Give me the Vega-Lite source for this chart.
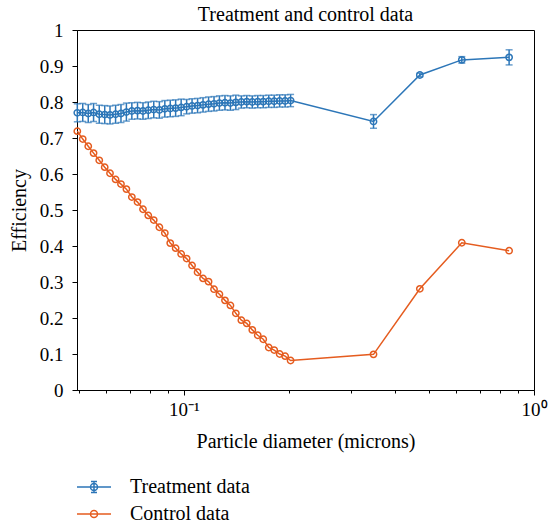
{
  "$schema": "https://vega.github.io/schema/vega-lite/v6.json",
  "width": 457,
  "height": 360,
  "autosize": {"type": "none"},
  "padding": {"left": 77, "top": 30, "right": 15, "bottom": 135},
  "background": "white",
  "title": {"text": "Treatment and control data", "font": "Liberation Serif", "fontSize": 20, "fontWeight": "normal", "color": "black", "offset": 7, "dy": 11},
  "config": {
    "view": {"stroke": "black", "strokeWidth": 1},
    "axis": {"domainColor": "black", "tickColor": "black", "labelColor": "black", "titleColor": "black", "labelFont": "Liberation Serif", "titleFont": "Liberation Serif", "labelFontSize": 19, "titleFontSize": 20, "titleFontWeight": "normal", "grid": false, "domainWidth": 1, "tickWidth": 1}
  },
  "data": {"values": [
    {"s": "Treatment data", "d": 0.0496, "e": 0.770, "lo": 0.745, "hi": 0.795},
    {"s": "Treatment data", "d": 0.0514, "e": 0.771, "lo": 0.746, "hi": 0.796},
    {"s": "Treatment data", "d": 0.0533, "e": 0.768, "lo": 0.743, "hi": 0.793},
    {"s": "Treatment data", "d": 0.0552, "e": 0.771, "lo": 0.746, "hi": 0.796},
    {"s": "Treatment data", "d": 0.0573, "e": 0.766, "lo": 0.741, "hi": 0.791},
    {"s": "Treatment data", "d": 0.0594, "e": 0.765, "lo": 0.740, "hi": 0.790},
    {"s": "Treatment data", "d": 0.0615, "e": 0.764, "lo": 0.739, "hi": 0.789},
    {"s": "Treatment data", "d": 0.0638, "e": 0.766, "lo": 0.741, "hi": 0.791},
    {"s": "Treatment data", "d": 0.0661, "e": 0.768, "lo": 0.743, "hi": 0.793},
    {"s": "Treatment data", "d": 0.0685, "e": 0.772, "lo": 0.747, "hi": 0.797},
    {"s": "Treatment data", "d": 0.0710, "e": 0.775, "lo": 0.752, "hi": 0.798},
    {"s": "Treatment data", "d": 0.0737, "e": 0.776, "lo": 0.753, "hi": 0.799},
    {"s": "Treatment data", "d": 0.0764, "e": 0.775, "lo": 0.752, "hi": 0.798},
    {"s": "Treatment data", "d": 0.0791, "e": 0.777, "lo": 0.754, "hi": 0.800},
    {"s": "Treatment data", "d": 0.0820, "e": 0.779, "lo": 0.756, "hi": 0.802},
    {"s": "Treatment data", "d": 0.0851, "e": 0.778, "lo": 0.755, "hi": 0.801},
    {"s": "Treatment data", "d": 0.0882, "e": 0.781, "lo": 0.758, "hi": 0.804},
    {"s": "Treatment data", "d": 0.0914, "e": 0.782, "lo": 0.759, "hi": 0.805},
    {"s": "Treatment data", "d": 0.0947, "e": 0.783, "lo": 0.760, "hi": 0.806},
    {"s": "Treatment data", "d": 0.0982, "e": 0.785, "lo": 0.762, "hi": 0.808},
    {"s": "Treatment data", "d": 0.1018, "e": 0.787, "lo": 0.767, "hi": 0.807},
    {"s": "Treatment data", "d": 0.1055, "e": 0.789, "lo": 0.769, "hi": 0.809},
    {"s": "Treatment data", "d": 0.1094, "e": 0.790, "lo": 0.770, "hi": 0.810},
    {"s": "Treatment data", "d": 0.1134, "e": 0.792, "lo": 0.772, "hi": 0.812},
    {"s": "Treatment data", "d": 0.1176, "e": 0.794, "lo": 0.774, "hi": 0.814},
    {"s": "Treatment data", "d": 0.1219, "e": 0.795, "lo": 0.775, "hi": 0.815},
    {"s": "Treatment data", "d": 0.1263, "e": 0.797, "lo": 0.777, "hi": 0.817},
    {"s": "Treatment data", "d": 0.1310, "e": 0.798, "lo": 0.778, "hi": 0.818},
    {"s": "Treatment data", "d": 0.1358, "e": 0.797, "lo": 0.777, "hi": 0.817},
    {"s": "Treatment data", "d": 0.1407, "e": 0.799, "lo": 0.779, "hi": 0.819},
    {"s": "Treatment data", "d": 0.1459, "e": 0.800, "lo": 0.783, "hi": 0.817},
    {"s": "Treatment data", "d": 0.1512, "e": 0.801, "lo": 0.784, "hi": 0.818},
    {"s": "Treatment data", "d": 0.1568, "e": 0.800, "lo": 0.783, "hi": 0.817},
    {"s": "Treatment data", "d": 0.1625, "e": 0.801, "lo": 0.784, "hi": 0.818},
    {"s": "Treatment data", "d": 0.1685, "e": 0.801, "lo": 0.784, "hi": 0.818},
    {"s": "Treatment data", "d": 0.1747, "e": 0.802, "lo": 0.785, "hi": 0.819},
    {"s": "Treatment data", "d": 0.1811, "e": 0.802, "lo": 0.785, "hi": 0.819},
    {"s": "Treatment data", "d": 0.1877, "e": 0.803, "lo": 0.786, "hi": 0.820},
    {"s": "Treatment data", "d": 0.1946, "e": 0.803, "lo": 0.786, "hi": 0.820},
    {"s": "Treatment data", "d": 0.2017, "e": 0.804, "lo": 0.787, "hi": 0.821},
    {"s": "Treatment data", "d": 0.348, "e": 0.746, "lo": 0.727, "hi": 0.765},
    {"s": "Treatment data", "d": 0.472, "e": 0.875, "lo": 0.870, "hi": 0.880},
    {"s": "Treatment data", "d": 0.622, "e": 0.917, "lo": 0.908, "hi": 0.926},
    {"s": "Treatment data", "d": 0.849, "e": 0.924, "lo": 0.903, "hi": 0.945},
    {"s": "Control data", "d": 0.0496, "e": 0.719},
    {"s": "Control data", "d": 0.0514, "e": 0.697},
    {"s": "Control data", "d": 0.0533, "e": 0.677},
    {"s": "Control data", "d": 0.0552, "e": 0.658},
    {"s": "Control data", "d": 0.0573, "e": 0.638},
    {"s": "Control data", "d": 0.0594, "e": 0.619},
    {"s": "Control data", "d": 0.0615, "e": 0.602},
    {"s": "Control data", "d": 0.0638, "e": 0.585},
    {"s": "Control data", "d": 0.0661, "e": 0.572},
    {"s": "Control data", "d": 0.0685, "e": 0.558},
    {"s": "Control data", "d": 0.0710, "e": 0.536},
    {"s": "Control data", "d": 0.0737, "e": 0.522},
    {"s": "Control data", "d": 0.0764, "e": 0.502},
    {"s": "Control data", "d": 0.0791, "e": 0.485},
    {"s": "Control data", "d": 0.0820, "e": 0.472},
    {"s": "Control data", "d": 0.0851, "e": 0.452},
    {"s": "Control data", "d": 0.0882, "e": 0.436},
    {"s": "Control data", "d": 0.0914, "e": 0.408},
    {"s": "Control data", "d": 0.0947, "e": 0.394},
    {"s": "Control data", "d": 0.0982, "e": 0.378},
    {"s": "Control data", "d": 0.1018, "e": 0.365},
    {"s": "Control data", "d": 0.1055, "e": 0.346},
    {"s": "Control data", "d": 0.1094, "e": 0.327},
    {"s": "Control data", "d": 0.1134, "e": 0.310},
    {"s": "Control data", "d": 0.1176, "e": 0.301},
    {"s": "Control data", "d": 0.1219, "e": 0.280},
    {"s": "Control data", "d": 0.1263, "e": 0.266},
    {"s": "Control data", "d": 0.1310, "e": 0.249},
    {"s": "Control data", "d": 0.1358, "e": 0.235},
    {"s": "Control data", "d": 0.1407, "e": 0.213},
    {"s": "Control data", "d": 0.1459, "e": 0.194},
    {"s": "Control data", "d": 0.1512, "e": 0.185},
    {"s": "Control data", "d": 0.1568, "e": 0.167},
    {"s": "Control data", "d": 0.1625, "e": 0.152},
    {"s": "Control data", "d": 0.1685, "e": 0.141},
    {"s": "Control data", "d": 0.1747, "e": 0.118},
    {"s": "Control data", "d": 0.1811, "e": 0.111},
    {"s": "Control data", "d": 0.1877, "e": 0.100},
    {"s": "Control data", "d": 0.1946, "e": 0.094},
    {"s": "Control data", "d": 0.2017, "e": 0.082},
    {"s": "Control data", "d": 0.348, "e": 0.099},
    {"s": "Control data", "d": 0.472, "e": 0.281},
    {"s": "Control data", "d": 0.622, "e": 0.409},
    {"s": "Control data", "d": 0.849, "e": 0.387}
  ]},
  "encoding": {
    "x": {"field": "d", "type": "quantitative",
      "scale": {"type": "log", "domain": [0.0495, 1], "nice": false},
      "axis": {"title": "Particle diameter (microns)", "titlePadding": 12,
        "values": [0.05, 0.06, 0.07, 0.08, 0.09, 0.1, 0.2, 0.3, 0.4, 0.5, 0.6, 0.7, 0.8, 0.9, 1],
        "labelExpr": "datum.value == 0.1 ? '10⁻¹' : (datum.value == 1 ? '10⁰' : '')",
        "tickSize": {"condition": {"test": "datum.value == 0.1 || datum.value == 1", "value": 5}, "value": 3},
        "labelPadding": 5, "labelFlush": false, "labelOverlap": false}},
    "y": {"field": "e", "type": "quantitative",
      "scale": {"domain": [0, 1], "nice": false},
      "axis": {"title": "Efficiency", "values": [0, 0.1, 0.2, 0.3, 0.4, 0.5, 0.6, 0.7, 0.8, 0.9, 1], "format": "~g", "tickSize": 5, "labelPadding": 9, "titlePadding": 10, "labelFlush": false}},
    "color": {"field": "s", "type": "nominal",
      "scale": {"domain": ["Treatment data", "Control data"], "range": ["#2c76b8", "#e55c1f"]},
      "legend": {"title": null, "orient": "none", "legendX": 6, "legendY": 446, "direction": "vertical",
        "symbolSize": 400, "labelOffset": 25, "rowPadding": 6, "padding": 0,
        "labelFont": "Liberation Serif", "labelFontSize": 20, "labelColor": "black", "labelLimit": 300,
        "symbolStrokeWidth": 1.5, "symbolFillColor": "transparent", "symbolType": "circle",
        "encode": {"symbols": {"update": {
          "shape": {"signal": "datum.value == 'Treatment data' ? 'M-1.7,0H1.7M0.35,0A0.35,0.35,0,1,1,-0.35,0A0.35,0.35,0,1,1,0.35,0M0,-0.55V0.55M-0.3,-0.55H0.3M-0.3,0.55H0.3' : 'M-1.7,0H1.7M0.35,0A0.35,0.35,0,1,1,-0.35,0A0.35,0.35,0,1,1,0.35,0'"},
          "fill": {"value": "transparent"},
          "fillOpacity": {"value": 0},
          "strokeWidth": {"value": 1.5}
        }}}
      }}
  },
  "layer": [
    {
      "transform": [{"filter": "datum.s == 'Treatment data'"}],
      "mark": {"type": "rule", "strokeWidth": 1.5},
      "encoding": {
        "y": {"field": "lo", "type": "quantitative"},
        "y2": {"field": "hi"}
      }
    },
    {
      "transform": [{"filter": "datum.s == 'Treatment data'"}],
      "mark": {"type": "tick", "orient": "horizontal", "size": 7, "thickness": 1.5},
      "encoding": {
        "y": {"field": "lo", "type": "quantitative"}
      }
    },
    {
      "transform": [{"filter": "datum.s == 'Treatment data'"}],
      "mark": {"type": "tick", "orient": "horizontal", "size": 7, "thickness": 1.5},
      "encoding": {
        "y": {"field": "hi", "type": "quantitative"}
      }
    },
    {
      "mark": {"type": "line", "strokeWidth": 1.5},
      "encoding": {
        "order": {"field": "d", "type": "quantitative"}
      }
    },
    {
      "mark": {"type": "point", "shape": "circle", "filled": false, "size": 40, "strokeWidth": 1.5, "opacity": 1}
    }
  ]
}
